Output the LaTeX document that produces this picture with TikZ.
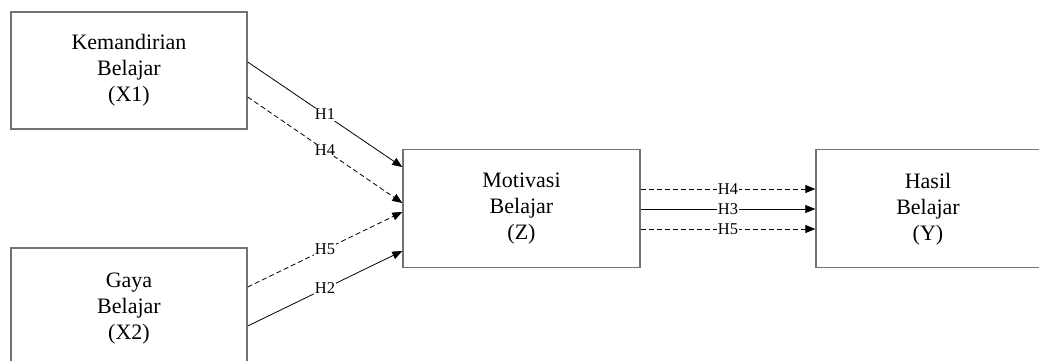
\documentclass[tikz,border=0pt]{standalone}
\usepackage{fontspec}
\setmainfont{Liberation Serif}
\usetikzlibrary{arrows.meta}
\begin{document}
\begin{tikzpicture}[x=1pt,y=-1pt,
  varbox/.style={draw=black!55,line width=1.4pt,align=center,inner sep=0pt,
    font=\fontsize{22}{26}\selectfont},
  vartext/.style={align=center,inner sep=0pt,font=\fontsize{22}{26}\selectfont},
  conn/.style={draw=black,line width=0.8pt,-{Triangle[length=10pt,width=8pt]}},
  dconn/.style={conn,dash pattern=on 5pt off 3pt},
  hlab/.style={fill=white,inner sep=0.6pt,font=\fontsize{16.5}{16.5}\selectfont}]
\useasboundingbox (0,0) rectangle (1039,360);
\fill[white] (0,0) rectangle (1039,360);
\begin{scope}
\clip (0,0) rectangle (1039,360);
\node[varbox,minimum width=236pt,minimum height=117pt] (X1) at (129,70.5) {Kemandirian\\Belajar\\(X1)};
\node[varbox,minimum width=236pt,minimum height=134pt] (X2) at (129,315) {};
\node[vartext] (X2t) at (129,309) {Gaya\\Belajar\\(X2)};
\node[varbox,minimum width=237pt,minimum height=118pt] (Z) at (521.5,208.5) {Motivasi\\Belajar\\(Z)};
\node[varbox,minimum width=226pt,minimum height=118pt] (Y) at (929,208.5) {};
\node[vartext] (Yt) at (928,209) {Hasil\\Belajar\\(Y)};
\end{scope}
% left connectors
\draw[conn] ([yshift=8.5pt]X1.east) -- node[hlab]{H1} ([yshift=41.5pt]Z.west);
\draw[dconn] ([yshift=-26.5pt]X1.east) -- node[hlab]{H4} ([yshift=5.5pt]Z.west);
\draw[dconn] ([yshift=28pt]X2.east) -- node[hlab]{H5} ([yshift=-3.5pt]Z.west);
\draw[conn] ([yshift=-11pt]X2.east) -- node[hlab]{H2} ([yshift=-42.5pt]Z.west);
% right connectors
\draw[dconn] ([yshift=19.5pt]Z.east) -- node[hlab]{H4} ([yshift=19.5pt]Z.east -| Y.west);
\draw[conn] ([yshift=-0.5pt]Z.east) -- node[hlab]{H3} ([yshift=-0.5pt]Z.east -| Y.west);
\draw[dconn] ([yshift=-20.5pt]Z.east) -- node[hlab]{H5} ([yshift=-20.5pt]Z.east -| Y.west);
\end{tikzpicture}
\end{document}
